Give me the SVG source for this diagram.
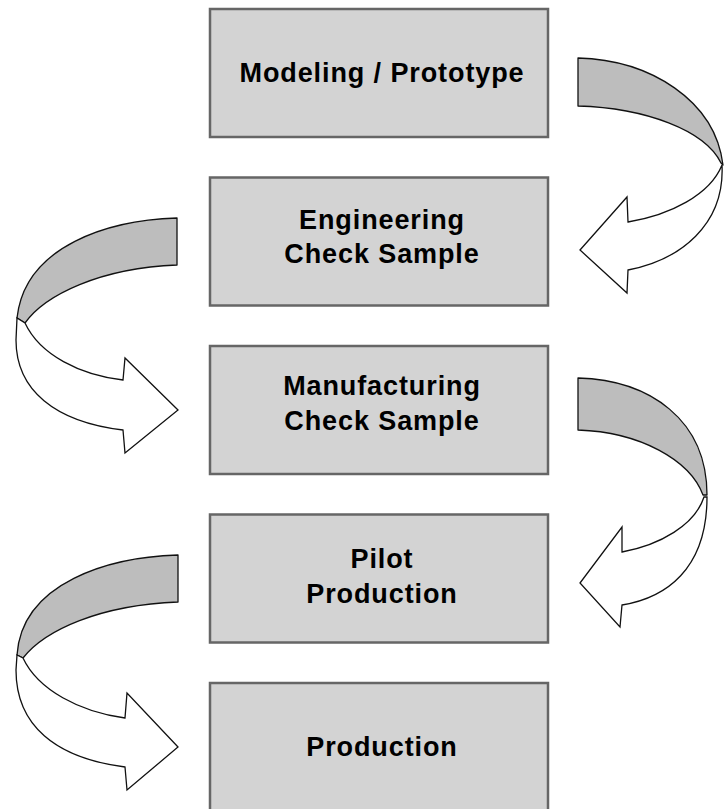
<svg xmlns="http://www.w3.org/2000/svg" width="725" height="809" viewBox="0 0 725 809">
<style>
.box{fill:#d3d3d3;stroke:#666;stroke-width:2.5}
.lbl{font-family:"Liberation Sans",Arial,sans-serif;font-weight:bold;font-size:27px;letter-spacing:0.9px;fill:#000;text-anchor:middle}
.back{fill:#bdbdbd;stroke:#111;stroke-width:1.3;stroke-linejoin:round}
.front{fill:#fff;stroke:#111;stroke-width:1.3;stroke-linejoin:miter}
</style>
<rect width="725" height="809" fill="#fff"/>
<g id="connectors">
  <g id="arrow1">
    <path class="back" d="M578,58 C650,60 715,100 723,165 L721,163 C705,130 645,108 578,106 Z"/>
    <path class="front" d="M722,165 C710,195 670,215 628,222 L627,197 L580,250 L627,293 L628,270 C680,260 725,225 722,165 Z"/>
  </g>
  <g id="arrow2">
    <path class="back" d="M177,218 C110,220 25,245 17,318 L25,323 C45,295 100,268 177,265 Z"/>
    <path class="front" d="M25,323 C40,355 80,375 123,380 L125,358 L178,410 L125,453 L123,430 C55,422 16,390 16,340 L17,318 Z"/>
  </g>
  <g id="arrow3">
    <path class="back" d="M578,378 C650,380 707,420 707,495 L703,495 C690,460 640,432 578,430 Z"/>
    <path class="front" d="M704,497 C695,525 660,545 622,552 L622,527 L580,583 L620,627 L622,605 C665,598 707,570 707,497 Z"/>
  </g>
  <g id="arrow4">
    <path class="back" d="M178,555 C110,557 22,582 17,655 L23,658 C45,630 100,605 178,602 Z"/>
    <path class="front" d="M23,658 C38,690 80,712 125,718 L127,693 L178,747 L127,790 L125,767 C55,758 16,725 16,670 L17,655 Z"/>
  </g>
</g>
<g id="node1">
  <rect class="box" x="210" y="9" width="338" height="128"/>
  <text class="lbl" x="382" y="82">Modeling / Prototype</text>
</g>
<g id="node2">
  <rect class="box" x="210" y="177.5" width="338" height="128"/>
  <text class="lbl" x="382" y="229">Engineering</text>
  <text class="lbl" x="382" y="263">Check Sample</text>
</g>
<g id="node3">
  <rect class="box" x="210" y="346" width="338" height="128"/>
  <text class="lbl" x="382" y="395">Manufacturing</text>
  <text class="lbl" x="382" y="430">Check Sample</text>
</g>
<g id="node4">
  <rect class="box" x="210" y="514.5" width="338" height="128"/>
  <text class="lbl" x="382" y="568">Pilot</text>
  <text class="lbl" x="382" y="603">Production</text>
</g>
<g id="node5">
  <rect class="box" x="210" y="683" width="338" height="130"/>
  <text class="lbl" x="382" y="756">Production</text>
</g>
</svg>
